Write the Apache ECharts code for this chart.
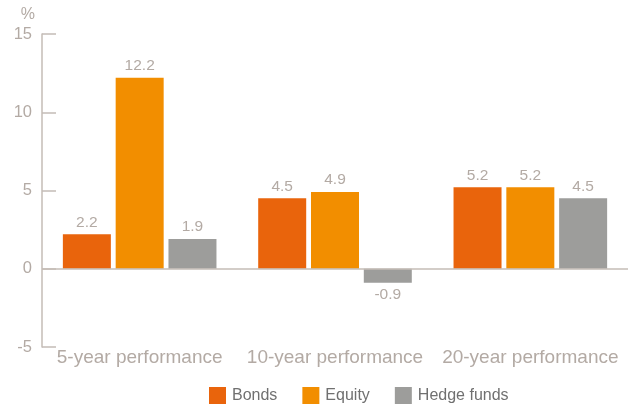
<!DOCTYPE html>
<html>
<head>
<meta charset="utf-8">
<script src="https://cdn.jsdelivr.net/npm/echarts@6/dist/echarts.min.js"></script>
<style>
  html, body { margin: 0; padding: 0; background: #fff; }
  #chart { width: 635px; height: 409px; }
</style>
</head>
<body>
<div id="chart"></div>
<script>
// Annualised performance by horizon, in percent
const categories = ['5-year performance', '10-year performance', '20-year performance'];
const bonds = [2.2, 4.5, 5.2];
const equity = [12.2, 4.9, 5.2];
const hedgeFunds = [1.9, -0.9, 4.5];
const yTicks = { min: -5, max: 15, interval: 5 };

const axisGrey = '#c4bcb6';
const labelGrey = '#b3aaa4';
const FONT = '"Liberation Sans", Arial, Helvetica, sans-serif';

function withLabels(values) {
  return values.map(v => v < 0
    ? { value: v, label: { position: 'bottom' } }
    : v);
}

function barSeries(name, values, color) {
  return {
    name: name,
    type: 'bar',
    data: withLabels(values),
    barWidth: 48,
    barGap: '10%',
    itemStyle: { color: color },
    label: {
      show: true,
      position: 'top',
      distance: 4,
      color: labelGrey,
      fontSize: 15.5,
      fontFamily: FONT,
      formatter: p => p.value.toFixed(1)
    }
  };
}

const series = [
  barSeries('Bonds', bonds, '#e9640c'),
  barSeries('Equity', equity, '#f28e00'),
  barSeries('Hedge funds', hedgeFunds, '#9d9d9b')
];
// zero baseline across the plot
series[0].markLine = {
  silent: true,
  symbol: 'none',
  label: { show: false },
  lineStyle: { color: axisGrey, width: 1.5, type: 'solid' },
  data: [{ yAxis: 0 }]
};

const chart = echarts.init(document.getElementById('chart'), null, { renderer: 'canvas' });
chart.setOption({
  animation: false,
  textStyle: { fontFamily: FONT },
  grid: { left: 42, right: 7, top: 34, bottom: 62, containLabel: false },
  legend: {
    left: 209,
    top: 387,
    padding: 0,
    itemWidth: 17,
    itemHeight: 17,
    itemGap: 25,
    icon: 'rect',
    textStyle: { color: '#707070', fontSize: 16, fontFamily: FONT, padding: [1, 0, 0, 1] },
    data: ['Bonds', 'Equity', 'Hedge funds']
  },
  xAxis: {
    type: 'category',
    data: categories,
    axisLine: { show: false },
    axisTick: { show: false },
    axisLabel: { color: labelGrey, fontSize: 19, margin: 1, fontFamily: FONT, interval: 0 }
  },
  yAxis: {
    type: 'value',
    min: yTicks.min,
    max: yTicks.max,
    interval: yTicks.interval,
    name: '%',
    nameLocation: 'end',
    nameGap: 11,
    nameTextStyle: { color: labelGrey, fontSize: 16, fontFamily: FONT, align: 'right', padding: [0, 7, 0, 0] },
    axisLine: { show: true, lineStyle: { color: axisGrey, width: 1.5 } },
    axisTick: { show: true, inside: true, length: 14, lineStyle: { color: axisGrey, width: 1.5 } },
    splitLine: { show: false },
    axisLabel: { color: labelGrey, fontSize: 16.5, margin: 10, fontFamily: FONT }
  },
  series: series
});
</script>
</body>
</html>
